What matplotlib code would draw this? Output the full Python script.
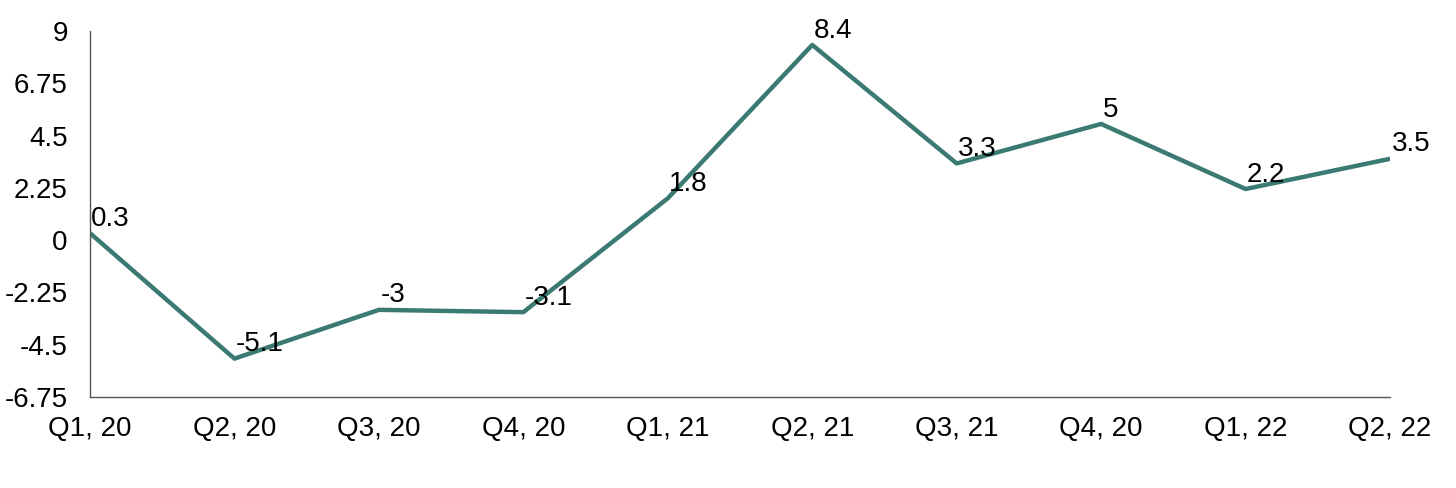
import matplotlib.pyplot as plt

quarters = ["Q1, 20", "Q2, 20", "Q3, 20", "Q4, 20", "Q1, 21",
            "Q2, 21", "Q3, 21", "Q4, 20", "Q1, 22", "Q2, 22"]
values = [0.3, -5.1, -3, -3.1, 1.8, 8.4, 3.3, 5, 2.2, 3.5]
yticks = [-6.75, -4.5, -2.25, 0, 2.25, 4.5, 6.75, 9]
ytick_labels = ["-6.75", "-4.5", "-2.25", "0", "2.25", "4.5", "6.75", "9"]

plt.rcParams["font.family"] = ["Liberation Sans", "DejaVu Sans"]

fig = plt.figure(figsize=(14.56, 4.88), dpi=100)
ax = fig.add_axes([0.0618, 0.1865, 0.8929, 0.75])

x = list(range(len(values)))
ax.plot(x, values, color="#3a7a72", linewidth=3.2, solid_capstyle="butt")

for xi, v in zip(x, values):
    label = f"{v:g}"
    ax.annotate(label, (xi, v), xytext=(1, 1), textcoords="offset points",
                ha="left", va="bottom", fontsize=20, color="black")

ax.set_xlim(0, len(values) - 1)
ax.set_ylim(-6.75, 9)
ax.set_xticks(x)
ax.set_xticklabels(quarters)
ax.set_yticks(yticks)
ax.set_yticklabels(ytick_labels)
ax.tick_params(axis="y", length=0, labelsize=20, pad=16)
ax.tick_params(axis="x", length=0, labelsize=20, pad=14)

for s in ["top", "right"]:
    ax.spines[s].set_visible(False)
for s in ["left", "bottom"]:
    ax.spines[s].set_color("#555555")
    ax.spines[s].set_linewidth(1)

plt.savefig("out.png", dpi=100)
